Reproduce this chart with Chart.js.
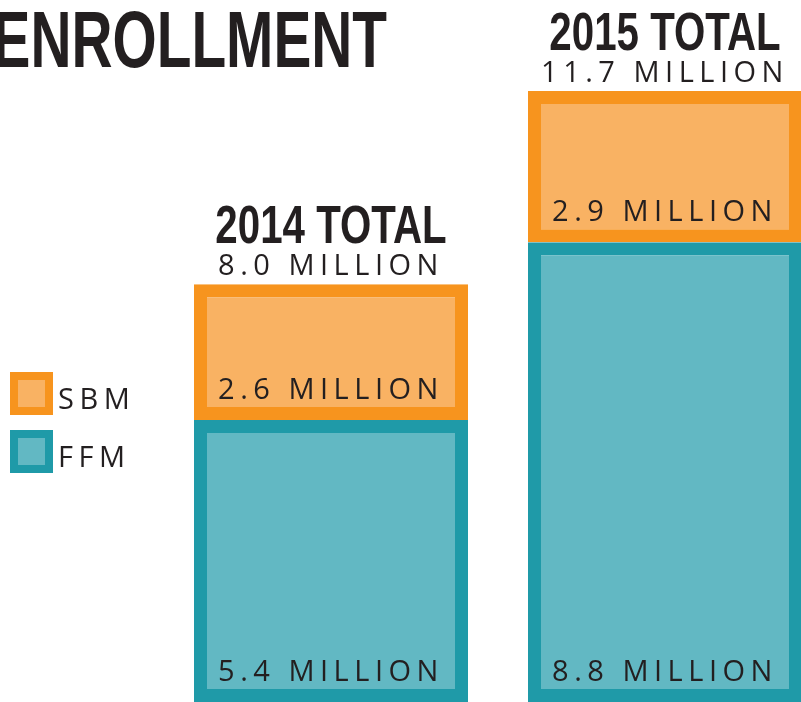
<!DOCTYPE html>
<html>
<head>
<meta charset="utf-8">
<script src="https://cdn.jsdelivr.net/npm/chart.js@4.4.1/dist/chart.umd.min.js"></script>
<style>
  html, body { margin: 0; padding: 0; background: #fff; overflow: hidden; }
  #wrap { width: 801px; height: 702px; overflow: hidden; position: relative; }
</style>
</head>
<body>
<div id="wrap"><canvas id="enrollChart" width="832" height="702"></canvas></div>
<script>
// Datos del gráfico (millones de inscritos)
const years = ['2014', '2015'];
const ffmValues = [5.4, 8.8];
const sbmValues = [2.6, 2.9];
const chartTitle = 'ENROLLMENT';

const ink = '#231f20';
const numFont = '29px "Open Sans"';

// Dibuja título, totales, etiquetas y leyenda
const labelsPlugin = {
    id: 'enrollLabels',
    afterDatasetsDraw(chart) {
        const ctx = chart.ctx;
        ctx.save();
        ctx.fillStyle = ink;
        ctx.textAlign = 'center';
        ctx.textBaseline = 'alphabetic';

        // etiquetas de cada segmento
        ctx.font = numFont;
        ctx.letterSpacing = '5.5px';
        chart.data.datasets.forEach((ds, di) => {
            chart.getDatasetMeta(di).data.forEach((bar, i) => {
                ctx.fillText(ds.data[i].toFixed(1) + ' MILLION', bar.x, bar.base - 21);
            });
        });

        // totales encima de cada barra
        const topMeta = chart.getDatasetMeta(chart.data.datasets.length - 1);
        topMeta.data.forEach((bar, i) => {
            const total = ffmValues[i] + sbmValues[i];
            ctx.font = numFont;
            ctx.letterSpacing = '5.5px';
            ctx.fillText(total.toFixed(1) + ' MILLION', bar.x, bar.y - 9);

            ctx.save();
            ctx.letterSpacing = '0px';
            ctx.font = 'bold 53px "Liberation Sans"';
            ctx.translate(bar.x, bar.y - 41);
            ctx.scale(0.76, 1);
            ctx.fillText(years[i] + ' TOTAL', 0, 0);
            ctx.restore();
        });

        // título (cortado a la izquierda)
        ctx.save();
        ctx.letterSpacing = '0px';
        ctx.textAlign = 'right';
        ctx.font = 'bold 80px "Liberation Sans"';
        ctx.translate(387, 67);
        ctx.scale(0.71, 1);
        ctx.fillText(chartTitle, 0, 0);
        ctx.restore();

        // leyenda
        const order = chart.data.datasets.slice().reverse();
        order.forEach((ds, k) => {
            const y0 = 372 + k * 58;
            ctx.fillStyle = ds.borderColor;
            ctx.fillRect(10, y0, 43, 43);
            ctx.fillStyle = ds.backgroundColor;
            ctx.fillRect(18, y0 + 8, 27, 27);
            ctx.fillStyle = ink;
            ctx.textAlign = 'left';
            ctx.font = numFont;
            ctx.letterSpacing = '5.5px';
            ctx.fillText(ds.label, 58, y0 + 37);
        });
        ctx.restore();
    }
};

const ctx = document.getElementById('enrollChart').getContext('2d');
const enrollChart = new Chart(ctx, {
    type: 'bar',
    data: {
        labels: years,
        datasets: [{
            label: 'FFM',
            data: ffmValues,
            backgroundColor: '#62b8c3',
            borderColor: '#1f9aa8',
            borderWidth: 13,
            borderSkipped: false,
            inflateAmount: 0,
            barThickness: 274
        }, {
            label: 'SBM',
            data: sbmValues,
            backgroundColor: '#f9b263',
            borderColor: '#f7941e',
            borderWidth: 13,
            borderSkipped: false,
            inflateAmount: 0,
            barThickness: 274
        }]
    },
    options: {
        responsive: false,
        animation: false,
        devicePixelRatio: 1,
        layout: { padding: { left: 164, top: 0, right: 0, bottom: 0 } },
        plugins: {
            legend: { display: false },
            tooltip: { enabled: false }
        },
        scales: {
            x: { stacked: true, display: false },
            y: { stacked: true, display: false, min: 0, max: 13.44 }
        }
    },
    plugins: [labelsPlugin]
});
</script>
</body>
</html>
